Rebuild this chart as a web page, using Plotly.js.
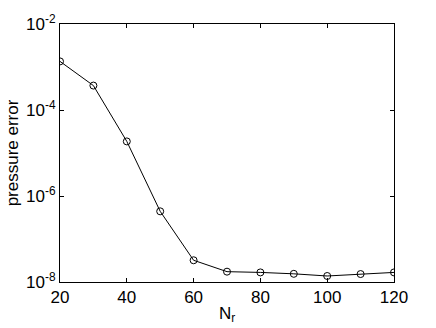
<!DOCTYPE html>
<html><head><meta charset="utf-8">
<script src="https://cdn.plot.ly/plotly-3.0.1.min.js"></script>
<style>html,body{margin:0;padding:0;background:#fff}#c{width:436px;height:328px}</style>
</head><body><div id="c"></div>
<script>
const nr = [20, 30, 40, 50, 60, 70, 80, 90, 100, 110, 120];
const pressureError = [1.35e-3, 3.7e-4, 1.86e-5, 4.4e-7, 3.2e-8, 1.74e-8, 1.67e-8, 1.55e-8, 1.38e-8, 1.53e-8, 1.67e-8];
const xTicks = [20, 40, 60, 80, 100, 120];
const yTickVals = [1e-8, 1e-6, 1e-4, 1e-2];
const yTickText = ['10<sup>-8</sup>', '10<sup>-6</sup>', '10<sup>-4</sup>', '10<sup>-2</sup>'];

Plotly.newPlot('c', [{
  x: nr, y: pressureError, type: 'scatter', mode: 'lines+markers',
  line: {color: '#000', width: 1},
  marker: {symbol: 'circle-open', size: 7, color: '#000', line: {width: 1, color: '#000'}}
}], {
  width: 436, height: 328,
  margin: {l: 60, r: 42, t: 24, b: 46},
  paper_bgcolor: '#fff', plot_bgcolor: '#fff',
  font: {family: 'Liberation Sans, Arial, sans-serif', size: 17, color: '#000'},
  showlegend: false,
  xaxis: {
    range: [20, 120], tickvals: xTicks, ticks: 'inside', ticklen: 4, tickcolor: '#000',
    showline: true, linecolor: '#000', linewidth: 1, mirror: 'ticks', showgrid: false, zeroline: false,
    title: {text: 'N<sub>r</sub>', standoff: 0, font: {size: 17}}
  },
  yaxis: {
    type: 'log', range: [-8, -2], tickvals: yTickVals, ticktext: yTickText,
    ticks: 'inside', ticklen: 4, tickcolor: '#000',
    showline: true, linecolor: '#000', linewidth: 1, mirror: 'ticks', showgrid: false, zeroline: false,
    title: {text: 'pressure error', standoff: 3, font: {size: 17}}
  }
}, {staticPlot: true});
</script></body></html>
